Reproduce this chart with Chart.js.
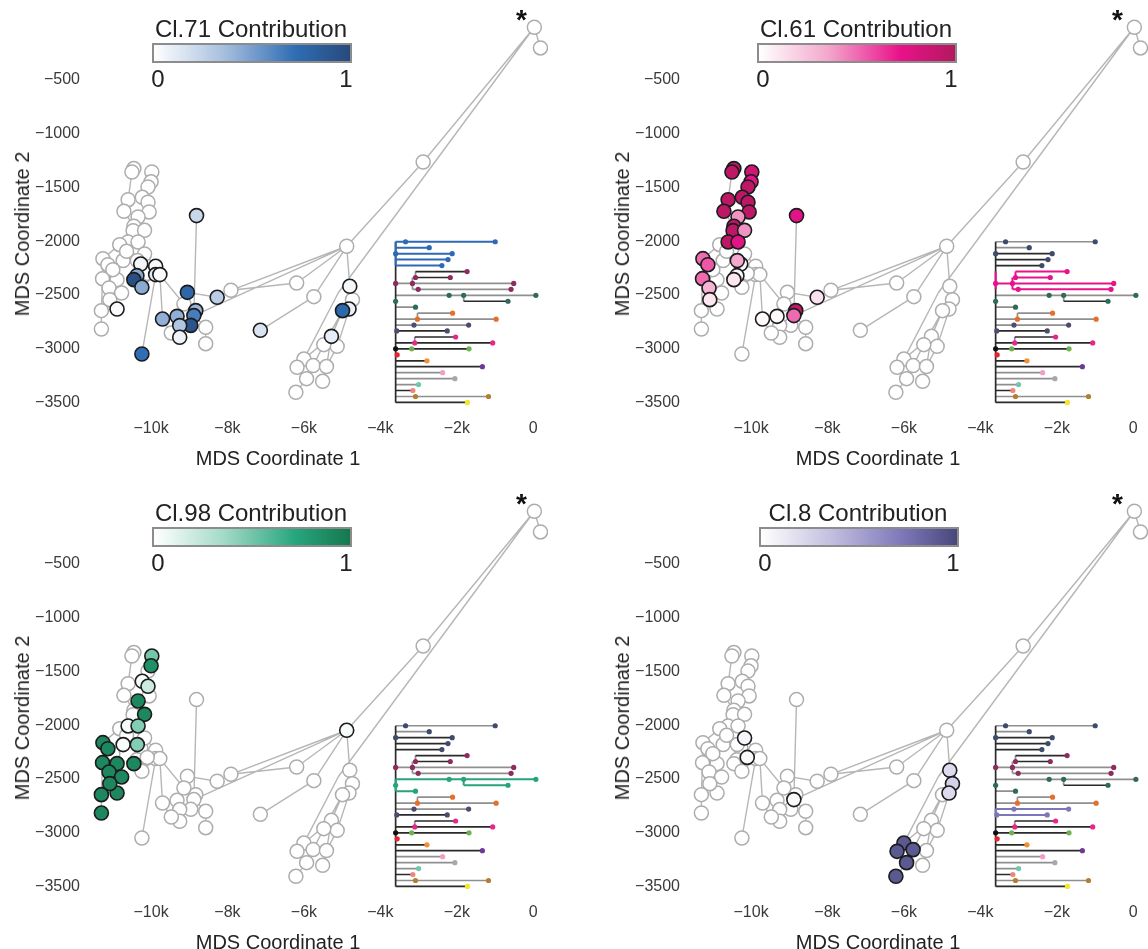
<!DOCTYPE html>
<html><head><meta charset="utf-8">
<script src="https://cdn.jsdelivr.net/npm/chart.js@4.4.1/dist/chart.umd.min.js"></script>
<style>
body{margin:0;background:#fff;font-family:"Liberation Sans",Arial,sans-serif;}
#wrap{position:relative;width:1148px;height:949px;overflow:hidden;background:#fff;}
.panel{position:absolute;width:548px;height:475px;}
.panel canvas{position:absolute;left:0;top:0;}
.t{position:absolute;white-space:nowrap;color:#222;}
.cbt{font-size:24px;line-height:24px;transform:translateX(-50%);}
.cbl{font-size:24px;line-height:24px;transform:translateX(-50%);}
.bar{position:absolute;width:196px;height:16px;border:2px solid #8c8c8c;}
.star{font-size:28px;line-height:28px;font-weight:bold;color:#111;}
.xt{font-size:20px;line-height:20px;transform:translate(-50%,-50%);}
.yt{font-size:20px;line-height:20px;transform:translate(-50%,-50%) rotate(-90deg);}
</style></head>
<body><div id="wrap"></div>
<script>
// ---------- data ----------
const xTickValues = [-10000,-8000,-6000,-4000,-2000,0];
const xTickLabels = ['\u221210k','\u22128k','\u22126k','\u22124k','\u22122k','0'];
const yTickValues = [-500,-1000,-1500,-2000,-2500,-3000,-3500];
const yTickLabels = ['\u2212500','\u22121000','\u22121500','\u22122000','\u22122500','\u22123000','\u22123500'];

const nodeX = [30,190,-2880,-4880,-6190,-7910,-8270,-5740,-7140,-4800,-4730,-4820,-4990,-5280,-5130,-5480,-6000,-6180,-5760,-5410,-5930,-5510,-6210,-5100,
 -8810,-9050,-8830,-8880,-8960,-9320,-9250,-9700,-9250,-9140,-9470,-8570,-8570,-10240,-9880,-10270,-9880,-9770,-10370,-10450,-10240,-10890,
 -10450,-10500,-9980,-10000,-10080,-10230,-10600,-10080,-10710,-10050,-10340,-10450,-10470,-10170,-10600,-10820,-10340,-10170,-11260,-11130,-10730,-11270,-10890,-11100,-10770,-11080,-11300,-11300,-10640,-11000,-10360,-10100];
const nodeY = [-13,-205,-1265,-2048,-2389,-2457,-2522,-2516,-2829,-2420,-2544,-2631,-2646,-2885,-2978,-2962,-3096,-3173,-3157,-3166,-3278,-3303,-3405,-2480,
 -1763,-2476,-2646,-2692,-2783,-2699,-2785,-2724,-2894,-2584,-2854,-2801,-2953,-3049,-2234,-2213,-2311,-2311,-2321,-2358,-2429,-2631,
 -1326,-1358,-1358,-1449,-1497,-1593,-1615,-1639,-1723,-1729,-1776,-1862,-1903,-1900,-2008,-2033,-2008,-2120,-2163,-2219,-2181,-2349,-2358,-2436,-2482,-2544,-2646,-2817,-2095,-2265,-2181,-2300];
const hiddenNodes = [23];
const edges = [[0,1],[0,2],[2,3],[0,23],[23,16],[3,4],[4,5],[3,5],[5,6],[6,25],[3,27],[3,7],[7,8],[3,9],[9,10],[9,11],[11,12],[12,13],[10,14],[12,15],[13,19],[15,18],[14,19],[16,17],[16,18],[18,20],[20,22],[19,21],[13,16],
 [24,27],[25,33],[27,26],[27,28],[27,35],[35,36],[28,30],[29,30],[29,31],[30,32],[31,34],[33,29],[41,31],[41,33],[40,41],[38,40],[38,63],[40,37],[39,66],[42,43],[43,44],[44,40],
 [46,47],[47,52],[48,49],[49,50],[50,51],[51,53],[53,55],[55,56],[56,57],[57,58],[58,60],[52,54],[54,57],[59,62],[62,63],[60,61],[61,64],[64,67],[67,72],[72,73],[65,68],[68,69],[69,70],[70,71],[71,45],[74,60],[75,65],[76,42],[77,40],[59,58],[66,75]];

// contributions per panel (node index, value 0..1)
const cl71Idx = [39,38,41,40,42,43,44,45,24,25,6,31,29,26,27,30,28,32,37,8,9,11,12,13];
const cl71Val = [0.05,0.03,0.03,0.12,0.45,0.95,0.45,0.03,0.22,0.78,0.28,0.42,0.42,0.4,0.65,0.32,0.92,0.06,0.72,0.15,0.04,0.08,0.75,0.1];
const cl61Idx = [46,47,48,49,50,51,52,53,54,55,56,57,58,59,60,62,64,65,76,39,67,69,71,42,43,24,6,31,29,26,27];
const cl61Val = [0.95,0.95,0.85,0.75,0.95,0.95,0.95,0.95,0.95,0.95,0.4,0.95,0.95,0.4,0.95,0.75,0.5,0.55,0.35,0.03,0.5,0.3,0.1,0.03,0.1,0.75,0.12,0.03,0.03,0.92,0.5];
const cl98Idx = [48,49,51,53,56,59,60,62,64,65,66,76,67,68,43,69,70,71,72,45,73,3];
const cl98Val = [0.5,0.85,0.04,0.2,0.9,0.9,0.04,0.45,0.9,0.9,0.03,0.45,0.9,0.9,0.9,0.9,0.9,0.9,0.9,0.9,0.9,0.03];
const cl8Idx = [63,77,27,9,10,11,16,17,18,20,22];
const cl8Val = [0.05,0.03,0.03,0.2,0.25,0.2,0.9,0.9,0.9,0.9,0.9];

// dendrogram
const dendroRowY = [-2006,-2061,-2117,-2172,-2227,-2283,-2338,-2393,-2448,-2504,-2559,-2614,-2670,-2725,-2780,-2835,-2891,-2946,-3001,-3057,-3112,-3167,-3223,-3278,-3333,-3388,-3444,-3499];
const hX0 = [-3600,-3600,-3600,-3600,-3600,-3080,-3080,-3600,-3160,-3600,-1820,-3600,-3030,-3600,-3600,-3600,-3100,-3600,-3600,-3600,-3600,-3600,-3600,-3600,-3600,-3600,-3600,-3600];
const hX1 = [-995,-2720,-2120,-2230,-2390,-1730,-2170,-510,-580,70,-660,-3080,-2110,-970,-1690,-2250,-2030,-1060,-1680,-3560,-2780,-1330,-2370,-2050,-3000,-3150,-1170,-1720];
const hGroup = ['b','b','b','b','b','m','m','m','m','t','t','t','o','o','s','s','p','p','lg','r','o2','pu','pk','gr','aq','sa','br','y'];
const hShade = ['g','g','k','k','k','k','k','g','g','g','k','g','g','g','g','k','k','k','k','k','k','k','g','g','g','k','g','k'];
const vX = [-3600,-3600,-3600,-3600,-3600,-3600,-3080,-3160,-1820,-3030,-3100];
const vRowA = [0,5,9,12,14,16,5,6,9,12,16];
const vRowB = [4,8,11,13,15,17,6,8,10,13,17];
const vGroup = ['b','m','t','o','s','p','m','m','t','o','p'];
const dotRow = [0,0,1,2,2,3,4, 5,6,6,7,7,7,8,8, 9,9,9,10,10,11, 12,13,13, 14,14,15,15, 16,17,17, 18,18,18, 19,20,21,22,23,24,25,26,26,27];
const dotX = [-3340,-995,-2720,-3600,-2120,-2230,-2390, -1730,-3080,-2170,-3600,-3160,-510,-3010,-580, -2200,-1820,70,-3600,-660,-3080, -2110,-3030,-970, -3120,-1690,-3570,-2250, -2030,-3100,-1060, -3600,-3180,-1680, -3560,-2780,-1330,-2370,-2050,-3000,-3150,-3080,-1170,-1720];
const dotGroup = ['b','b','b','b','b','b','b', 'm','m','m','m','m','m','m','m', 't','t','t','t','t','t', 'o','o','o', 's','s','s','s', 'p','p','p', 'k','lg','lg', 'r','o2','pu','pk','gr','aq','sa','br','br','y'];
const groupColor = {b:'#3d4b6d',m:'#8e2b5f',t:'#2f6b5a',o:'#e5702b',s:'#4d4c6e',p:'#e8278b',k:'#111111',lg:'#6db24d',r:'#e3262d',o2:'#f28e35',pu:'#6b3a97',pk:'#f49cc5',gr:'#a8a8a8',aq:'#6dc9a9',sa:'#f0857a',br:'#b17f2f',y:'#f3e62b'};

// colour maps
const stopPos = [0,0.35,0.72,1];
const blueStops = ['#ffffff','#a9c0df','#2f6db4','#284a7c'];
const magentaStops = ['#ffffff','#f3a8cc','#e8128a','#b3195e'];
const greenStops = ['#ffffff','#a5dbc8','#27a67e','#17774f'];
const purpleStops = ['#ffffff','#c3c0e0','#7e78b9','#48477c'];

// ---------- helpers ----------
function hex2rgb(h){return [parseInt(h.slice(1,3),16),parseInt(h.slice(3,5),16),parseInt(h.slice(5,7),16)];}
function cmap(stops,v){
  for(let i=1;i<stopPos.length;i++){
    if(v<=stopPos[i]){
      const t=(v-stopPos[i-1])/(stopPos[i]-stopPos[i-1]);
      const a=hex2rgb(stops[i-1]), b=hex2rgb(stops[i]);
      return 'rgb('+a.map((c,k)=>Math.round(c+(b[k]-c)*t)).join(',')+')';
    }
  }
  return stops[stops.length-1];
}
const FAM='"Liberation Sans", Arial, sans-serif';

const panels = [
  {left:0,top:0,title:'Cl.71 Contribution',idx:cl71Idx,val:cl71Val,stops:blueStops,hl:'b',hlColor:'#2e6ab3',cb:152},
  {left:600,top:0,title:'Cl.61 Contribution',idx:cl61Idx,val:cl61Val,stops:magentaStops,hl:'m',hlColor:'#e8128a',cb:157},
  {left:0,top:484,title:'Cl.98 Contribution',idx:cl98Idx,val:cl98Val,stops:greenStops,hl:'t',hlColor:'#27a37d',cb:152},
  {left:600,top:484,title:'Cl.8 Contribution',idx:cl8Idx,val:cl8Val,stops:purpleStops,hl:'s',hlColor:'#7d77b9',cb:159}
];

const wrap=document.getElementById('wrap');
panels.forEach(p=>{
  const div=document.createElement('div');
  div.className='panel'; div.style.left=p.left+'px'; div.style.top=p.top+'px';
  const cv=document.createElement('canvas'); cv.width=548; cv.height=475;
  div.appendChild(cv);
  const grad='linear-gradient(to right,'+p.stops.map((c,i)=>c+' '+(stopPos[i]*100)+'%').join(',')+')';
  div.insertAdjacentHTML('beforeend',
    '<div class="t cbt" style="left:'+(p.cb+99)+'px;top:17px">'+p.title+'</div>'+
    '<div class="bar" style="left:'+p.cb+'px;top:43px;background:'+grad+'"></div>'+
    '<div class="t cbl" style="left:'+(p.cb+6)+'px;top:67px">0</div>'+
    '<div class="t cbl" style="left:'+(p.cb+194)+'px;top:67px">1</div>'+
    '<div class="t star" style="left:'+(p.left?512:516)+'px;top:6px">*</div>'+
    '<div class="t xt" style="left:278px;top:458px">MDS Coordinate 1</div>'+
    '<div class="t yt" style="left:22px;top:234px">MDS Coordinate 2</div>');
  wrap.appendChild(div);

  const contrib=new Map(); p.idx.forEach((n,i)=>contrib.set(n,p.val[i]));
  const greyPts=[], colPts=[], colFill=[];
  nodeX.forEach((x,i)=>{
    if(hiddenNodes.includes(i)) return;
    if(contrib.has(i)){colPts.push({x:x,y:nodeY[i]}); colFill.push(cmap(p.stops,contrib.get(i)));}
    else greyPts.push({x:x,y:nodeY[i]});
  });
  const edgePts=[];
  edges.forEach(([a,b])=>{edgePts.push({x:nodeX[a],y:nodeY[a]},{x:nodeX[b],y:nodeY[b]},{x:nodeX[b],y:null});});

  // dendrogram lines by colour
  const dk=[], gy=[], hlp=[];
  const push=(arr,x0,y0,x1,y1)=>{arr.push({x:x0,y:y0},{x:x1,y:y1},{x:x1,y:null});};
  push(dk,-3600,dendroRowY[0],-3600,dendroRowY[27]);
  hX0.forEach((x0,r)=>{
    const y=dendroRowY[r];
    if(hGroup[r]===p.hl) push(hlp,x0,y,hX1[r],y);
    else push(hShade[r]==='k'?dk:gy,x0,y,hX1[r],y);
  });
  vX.forEach((x,i)=>{
    const arr = vGroup[i]===p.hl?hlp:(x===-3600?dk:gy);
    push(arr,x,dendroRowY[vRowA[i]],x,dendroRowY[vRowB[i]]);
  });
  const dPts=[], dCol=[];
  dotX.forEach((x,i)=>{dPts.push({x:x,y:dendroRowY[dotRow[i]]}); dCol.push(dotGroup[i]===p.hl?p.hlColor:groupColor[dotGroup[i]]);});

  const lineDS=(data,color,w,order)=>({data:data,showLine:true,borderColor:color,borderWidth:w,pointRadius:0,spanGaps:false,tension:0,order:order,clip:false});

  new Chart(cv,{
    type:'scatter',
    data:{datasets:[
      {data:colPts,pointRadius:7,pointBackgroundColor:colFill,pointBorderColor:'#1c1c1c',pointBorderWidth:1.6,showLine:false,order:0,clip:false},
      {data:greyPts,pointRadius:7,pointBackgroundColor:'#ffffff',pointBorderColor:'#adadad',pointBorderWidth:1.5,showLine:false,order:1,clip:false},
      lineDS(edgePts,'#b6b6b6',1.4,2),
      {data:dPts,pointRadius:2.6,pointBackgroundColor:dCol,pointBorderWidth:0,showLine:false,order:0,clip:false},
      lineDS(hlp,p.hlColor,2,1),
      lineDS(gy,'#8f8f8f',1.7,3),
      lineDS(dk,'#2a2a2a',1.7,2)
    ]},
    options:{
      responsive:false,animation:false,devicePixelRatio:1,
      layout:{padding:{top:3,right:1,left:0,bottom:0}},
      plugins:{legend:{display:false},tooltip:{enabled:false}},
      scales:{
        x:{type:'linear',min:-11650,max:162,grid:{display:false,drawTicks:false},border:{display:false},
           afterBuildTicks:ax=>{ax.ticks=xTickValues.map(v=>({value:v}));},
           afterFit:ax=>{ax.height=63;},
           ticks:{callback:(v,i)=>xTickLabels[i],font:{size:16,family:FAM},color:'#3a3a3a',padding:7,maxRotation:0,autoSkip:false}},
        y:{type:'linear',min:-3588,max:77,grid:{display:false,drawTicks:false},border:{display:false},
           afterBuildTicks:ax=>{ax.ticks=yTickValues.map(v=>({value:v}));},
           afterFit:ax=>{ax.width=88;},
           ticks:{callback:(v,i)=>yTickLabels[i],font:{size:16,family:FAM},color:'#3a3a3a',padding:8,autoSkip:false}}
      }
    }
  });
});
</script></body></html>
